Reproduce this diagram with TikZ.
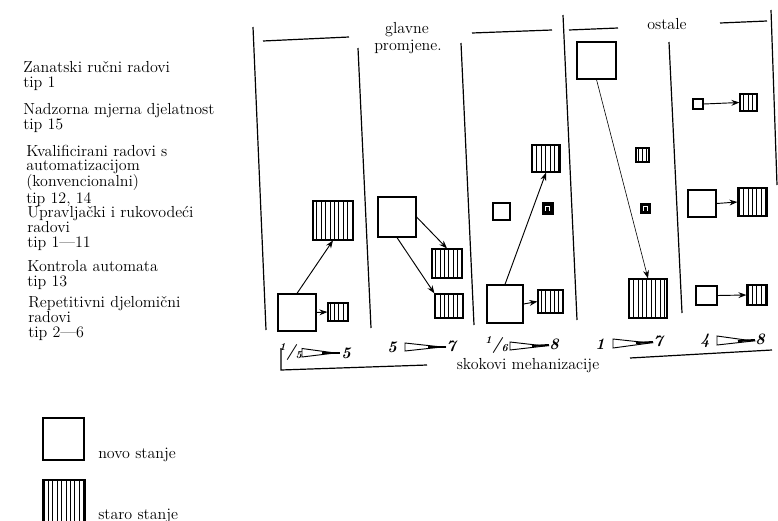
\documentclass[tikz,border=0pt]{standalone}
\usepackage{fontspec}
\usetikzlibrary{fit,arrows.meta,patterns.meta}
\begin{document}
\begin{tikzpicture}[x=0.75pt,y=-0.75pt,
  every node/.style={font=\fontsize{12pt}{10.6pt}\selectfont},
  lbl/.style={anchor=base west, align=left, inner sep=0pt},
  newbox/.style={draw, line width=0.9pt, inner sep=0pt, fill=white},
  oldbox/.style={draw, line width=0.9pt, inner sep=0pt, pattern={Lines[angle=90,distance=3.3pt,line width=0.55pt]}},
  darkbox/.style={draw, line width=0.6pt, fill=black, inner sep=0pt,
    path picture={\draw[white,line width=0.5pt] ([xshift=-1.4pt,yshift=-2pt]path picture bounding box.center) -- ++(0,3.6pt) -- ++(2.8pt,0) -- ++(0,-3.6pt);}},
  divider/.style={line width=0.9pt},
  conn/.style={line width=0.7pt, -{Stealth[length=6pt,width=4.4pt]}},
  thinconn/.style={line width=0.45pt, -{Stealth[length=6pt,width=4.4pt]}},
  wedge/.style={line width=0.7pt},
  wedgebar/.style={line width=1.5pt},
  hand/.style={font=\fontsize{12pt}{12pt}\selectfont\itshape\bfseries, inner sep=0pt},
]
\useasboundingbox (0,0) rectangle (778,521);
\clip (0,0) rectangle (778,521);

% left labels (anchor at baseline of last line)
\node[lbl] (l1) at (23,87) {Zanatski ručni radovi\\tip 1};
\node[lbl] (l2) at (23,129) {Nadzorna mjerna djelatnost\\tip 15};
\node[lbl] (l3) at (26,203) {Kvalificirani radovi s\\automatizacijom\\(konvencionalni)\\tip 12, 14};
\node[lbl] (l4) at (27,247) {Upravljački i rukovodeći\\radovi\\tip 1—11};
\node[lbl] (l5) at (27,286) {Kontrola automata\\tip 13};
\node[lbl] (l6) at (28,337) {Repetitivni djelomični\\radovi\\tip 2—6};

% dividers
\draw[divider] (253,27) -- (266,330);
\draw[divider] (358,48) -- (371,328);
\draw[divider] (461,43) -- (474,325);
\draw[divider] (563,15) -- (577,320);
\draw[divider] (669,42) -- (682,313);
\draw[divider] (771,10) -- (777,185);

% top lines and headings
\draw[divider] (263,41) -- (349,37);
\draw[divider] (472,33) -- (552,30);
\draw[divider] (569,30) -- (618,28);
\draw[divider] (720,23) -- (767,21);
\node (glav) at (407,30) {glavne};
\node (prom) at (408,47) {promjene.};
\node (ost) at (667,24) {ostale};

% column 1
\node[oldbox, fit={(313,201) (353,240)}] (h1) {};
\node[newbox, fit={(278,294) (316,331)}] (w1) {};
\node[oldbox, fit={(328,303) (348,321)}] (s1) {};
\draw[conn] (w1.north) -- (h1.south);
\draw[conn] (w1.east) -- (s1.west);

% column 2
\node[newbox, fit={(378,197) (416,237)}] (w2) {};
\node[oldbox, fit={(432,249) (462,278)}] (h2a) {};
\node[oldbox, fit={(435,294) (463,318)}] (h2b) {};
\draw[conn] (w2.east) -- (h2a.north);
\draw[conn] (w2.south) -- (h2b.north west);

% column 3
\node[oldbox, fit={(532,145) (560,172)}] (h3) {};
\node[newbox, fit={(493,203) (510,220)}] (q3) {};
\node[darkbox, fit={(542,202) (553,214)}] (d3) {};
\node[newbox, fit={(487,285) (523,323)}] (w3) {};
\node[oldbox, fit={(538,290) (563,313)}] (s3) {};
\draw[conn] (w3.north) -- (h3.south);
\draw[conn] (w3.east) -- (s3.west);

% column 4
\node[newbox, fit={(577,42) (616,79)}] (w4) {};
\node[oldbox, fit={(636,148) (649,162)}] (s4) {};
\node[darkbox, fit={(640,203) (650,213)}] (d4) {};
\node[oldbox, fit={(629,279) (667,318)}] (h4) {};
\draw[thinconn] (w4.south) -- (h4.north);

% column 5
\node[newbox, fit={(693,99) (703,109)}] (w5a) {};
\node[oldbox, fit={(740,94) (757,111)}] (h5a) {};
\node[newbox, fit={(688,190) (716,217)}] (w5b) {};
\node[oldbox, fit={(738,188) (767,216)}] (h5b) {};
\node[newbox, fit={(696,286) (717,305)}] (w5c) {};
\node[oldbox, fit={(747,285) (767,305)}] (h5c) {};
\draw[conn] (w5a.east) -- (h5a.west);
\draw[conn] (w5b.east) -- (h5b.west);
\draw[conn] (w5c.east) -- (h5c.west);

% bottom mechanisation jumps
\node[hand] (a1) at (291,352) {\textsuperscript{1}/\textsubscript{5}};
\draw[wedge] (302,348.5) -- (302,357) -- (335,353) -- cycle;
\draw[wedgebar] (322,353) -- (340,353);
\node[hand] (b1) at (346,353) {5};

\node[hand] (a2) at (392,347) {5};
\draw[wedge] (405,343) -- (405,351) -- (442,347) -- cycle;
\draw[wedgebar] (428,347) -- (446,347);
\node[hand] (b2) at (451,346) {7};

\node[hand] (a3) at (497,345) {\textsuperscript{1}/\textsubscript{6}};
\draw[wedge] (510,342) -- (510,350) -- (545,346) -- cycle;
\draw[wedgebar] (532,346) -- (549,345);
\node[hand] (b3) at (554,344) {8};

\node[hand] (a4) at (600,344) {1};
\draw[wedge] (613,339) -- (613,348) -- (650,343) -- cycle;
\draw[wedgebar] (636,343) -- (653,342);
\node[hand] (b4) at (658,341) {7};

\node[hand] (a5) at (705,341) {4};
\draw[wedge] (717,336) -- (717,345) -- (753,341) -- cycle;
\draw[wedgebar] (738,341) -- (755,340);
\node[hand] (b5) at (760,339) {8};

\draw[divider] (281,348) -- (281,370) -- (427,365);
\draw[divider] (630,358) -- (772,350);
\node (skok) at (528,366) {skokovi mehanizacije};

% legend
\node[newbox, fit={(43,418) (84,460)}] (legnew) {};
\node[lbl] (tnew) at (98,458) {novo stanje};
\node[oldbox, fit={(43,480) (85,530)}] (legold) {};
\node[lbl] (told) at (98,519) {staro stanje};
\end{tikzpicture}
\end{document}
